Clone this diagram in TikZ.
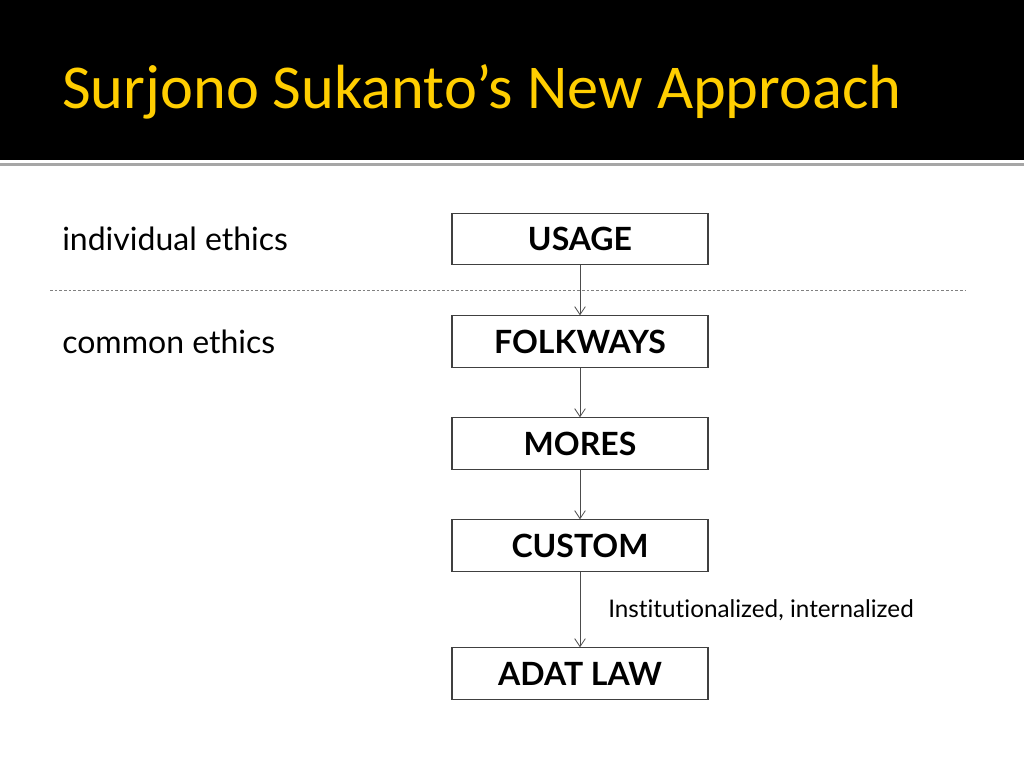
\documentclass[tikz,border=0pt]{standalone}
\usepackage{fontspec}
\setmainfont{Lato}[Ligatures=NoCommon]
\newfontfamily\titlefont{Carlito}
\usepackage{xcolor}
\usetikzlibrary{positioning, arrows.meta}

\definecolor{titlegold}{RGB}{255,206,0}

\tikzset{
    stagebox/.style={draw=black!75, line width=0.8pt, minimum width=192pt, minimum height=38.5pt, font=\fontsize{24}{26}\selectfont\bfseries},
    sidetext/.style={anchor=west, inner sep=0pt, font=\fontsize{24}{26}\selectfont},
    flow/.style={draw=black!70, line width=0.6pt, -{Straight Barb[length=6pt, width=8pt]}}
}

\begin{document}
\begin{tikzpicture}[x=0.75pt, y=-0.75pt]
    \useasboundingbox (0,0) rectangle (1024,768);
    % title bar
    \fill[black] (0,0) rectangle (1024,160);
    \draw[gray!70, line width=2pt] (0,164.5) -- (1024,164.5);
    \node[anchor=base west, inner sep=0pt, text=titlegold, font=\titlefont\fontsize{46.8}{52}\selectfont] (title) at (62,108) {Surjono Sukanto’s New Approach};

    % stages
    \node[stagebox] (usage) at (580,239) {USAGE};
    \node[stagebox] (folkways) at (580,341.5) {FOLKWAYS};
    \node[stagebox] (mores) at (580,443.5) {MORES};
    \node[stagebox] (custom) at (580,545.5) {CUSTOM};
    \node[stagebox] (adat) at (580,673.5) {ADAT LAW};

    % left labels
    \node[sidetext] (indiv) at (62,239) {individual ethics};
    \node[sidetext] (common) at (62,341.5) {common ethics};
    \node[anchor=west, inner sep=0pt, font=\fontsize{18.2}{20}\selectfont] (inst) at (608,610) {Institutionalized, internalized};

    % divider
    \coordinate (divl) at (50,290);
    \coordinate (divr) at (965,290);
    \draw[gray, dashed, dash pattern=on 2pt off 1.5pt, line width=0.5pt] (divl) -- (divr);

    % flow arrows
    \draw[flow] (usage) -- (folkways);
    \draw[flow] (folkways) -- (mores);
    \draw[flow] (mores) -- (custom);
    \draw[flow] (custom) -- (adat);
\end{tikzpicture}
\end{document}
